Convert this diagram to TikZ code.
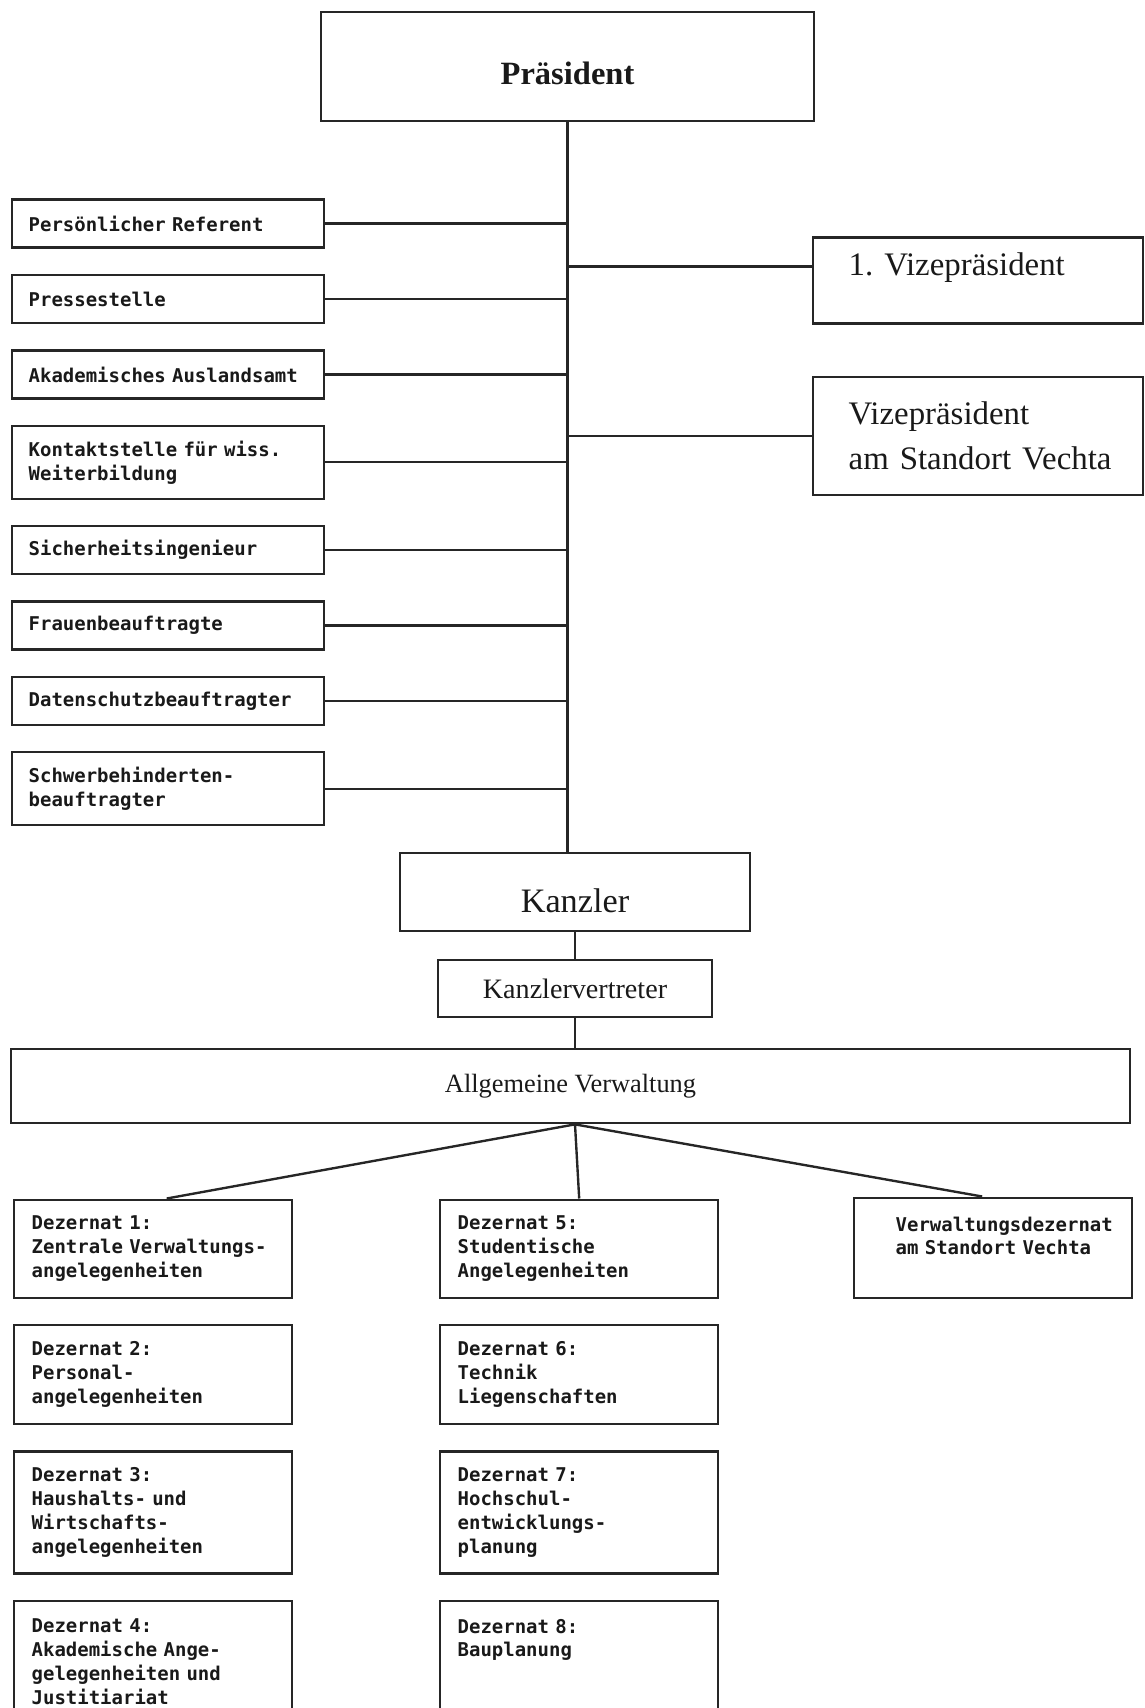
\documentclass[tikz,border=0pt]{standalone}
\usepackage{fontspec}
\setmainfont{Liberation Serif}
\newfontfamily\druckfont{DejaVu Sans Mono}
\usetikzlibrary{positioning, calc}
\frenchspacing

\tikzset{
  linie/.style={line width=1.35pt, draw=black!85},
  stelle/.style={linie, rectangle, anchor=north west, inner xsep=0pt, inner ysep=0pt,
    text width=6.23cm, minimum height=0.96cm, align=left,
    execute at begin node={\leftskip=0.33cm},
    font=\druckfont\bfseries\fontsize{10.8}{13.6}\selectfont},
  dezernat/.style={stelle, text width=5.56cm, minimum height=1.96cm,
    execute at begin node={\leftskip=0.35cm}},
  leitung/.style={linie, rectangle, inner sep=0pt, font=\fontsize{18.7}{26}\selectfont},
  vizebox/.style={leitung, anchor=north west, text width=6.6cm, align=left,
    execute at begin node={\leftskip=0.72cm}}
}

\begin{document}
\begin{tikzpicture}[node distance=0.5cm, text=black!90]
    \useasboundingbox (0,0) rectangle (22.88,-34.16);
    \clip (0,0) rectangle (22.88,-34.16);

    \node[leitung, anchor=north, minimum width=9.87cm, text height=1.44cm, text depth=0.74cm,
      font=\bfseries\fontsize{18.5}{22}\selectfont] (praesident) at (11.35,-0.22) {Präsident};

    \node[stelle] (referent) at (0.22,-3.97) {Persönlicher Referent};
    \node[stelle, below=of referent] (presse) {Pressestelle};
    \node[stelle, below=of presse] (auslandsamt) {Akademisches Auslandsamt};
    \node[stelle, below=of auslandsamt, minimum height=1.46cm] (kontakt) {Kontaktstelle für wiss.\\Weiterbildung};
    \node[stelle, below=of kontakt] (sicherheit) {Sicherheitsingenieur};
    \node[stelle, below=of sicherheit] (frauen) {Frauenbeauftragte};
    \node[stelle, below=of frauen] (datenschutz) {Datenschutzbeauftragter};
    \node[stelle, below=of datenschutz, minimum height=1.46cm] (schwerbeh) {Schwerbehinderten-\\beauftragter};

    \node[vizebox, text height=0.76cm, text depth=0.96cm] (vize) at (16.23,-4.73) {1. Vizepräsident};
    \node[vizebox, minimum height=2.35cm] (vizevechta) at (16.23,-7.52) {Vizepräsident\\am Standort Vechta};

    \node[leitung, anchor=north, minimum width=7cm, text height=1.18cm, text depth=0.37cm,
      font=\fontsize{19.5}{23}\selectfont] (kanzler) at (11.5,-17.04) {Kanzler};
    \node[leitung, anchor=north, minimum width=5.49cm, minimum height=1.13cm,
      font=\fontsize{16}{19}\selectfont] (vertreter) at (11.5,-19.18) {Kanzlervertreter};
    \node[leitung, anchor=north, minimum width=22.38cm, minimum height=1.48cm,
      font=\fontsize{15}{18}\selectfont] (verwaltung) at (11.41,-20.96) {Allgemeine Verwaltung};

    \node[dezernat] (dez1) at (0.26,-23.97) {Dezernat 1:\\Zentrale Verwaltungs-\\angelegenheiten};
    \node[dezernat, below=of dez1, minimum height=1.98cm] (dez2) {Dezernat 2:\\Personal-\\angelegenheiten};
    \node[dezernat, below=of dez2, minimum height=2.44cm] (dez3) {Dezernat 3:\\Haushalts- und\\Wirtschafts-\\angelegenheiten};
    \node[dezernat, below=of dez3, minimum height=2.44cm] (dez4) {Dezernat 4:\\Akademische Ange-\\gelegenheiten und\\Justitiariat};

    \node[dezernat] (dez5) at (8.78,-23.97) {Dezernat 5:\\Studentische\\Angelegenheiten};
    \node[dezernat, below=of dez5, minimum height=1.98cm] (dez6) {Dezernat 6:\\Technik\\Liegenschaften};
    \node[dezernat, below=of dez6, minimum height=2.44cm] (dez7) {Dezernat 7:\\Hochschul-\\entwicklungs-\\planung};
    \node[dezernat, below=of dez7, minimum height=2.44cm] (dez8) {Dezernat 8:\\Bauplanung\\\mbox{}\\\mbox{}};

    \node[dezernat, minimum height=2cm, execute at begin node={\leftskip=0.83cm}] (vechta) at (17.06,-23.93) {Verwaltungsdezernat\\am Standort Vechta\\\mbox{}};

    \coordinate (stamm) at (praesident.south |- kanzler.north);
    \draw[linie] (praesident.south) -- (stamm);
    \foreach \stelle in {referent, presse, auslandsamt, kontakt, sicherheit, frauen, datenschutz, schwerbeh}
        \draw[linie] (\stelle.east) -- (\stelle.east -| praesident.south);
    \coordinate (vizeanschluss) at ($(vize.north west)!0.34!(vize.south west)$);
    \draw[linie] (vizeanschluss -| praesident.south) -- (vizeanschluss);
    \draw[linie] (vizevechta.west -| praesident.south) -- (vizevechta.west);

    \draw[linie] (kanzler.south) -- (vertreter.north);
    \draw[linie] (vertreter.south) -- (vertreter.south |- verwaltung.north);
    \coordinate (gabel) at (vertreter.south |- verwaltung.south);
    \draw[linie] (gabel) -- ([xshift=0.27cm]dez1.north);
    \draw[linie] (gabel) -- (dez5.north);
    \draw[linie] (gabel) -- ([xshift=-0.22cm]vechta.north);
\end{tikzpicture}
\end{document}
